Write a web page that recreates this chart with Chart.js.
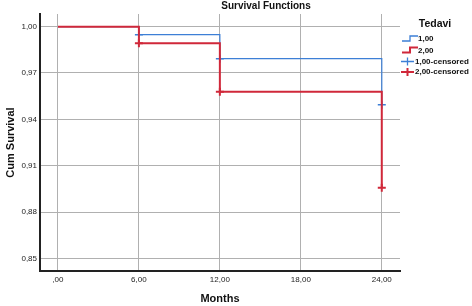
<!DOCTYPE html>
<html>
<head>
<meta charset="utf-8">
<script src="https://cdn.jsdelivr.net/npm/chart.js@4"></script>
<style>
  html, body { margin: 0; padding: 0; background: #fff; }
  #wrap { width: 472px; height: 306px; position: relative; }
</style>
</head>
<body>
<div id="wrap"><canvas id="graph" width="472" height="306"></canvas></div>
<script>
// Kaplan-Meier steps
const months = [0, 6, 12, 24];
const survival1 = [1.0, 0.9948, 0.9793, 0.9495];
const survival2 = [1.0, 0.9892, 0.9579, 0.8957];
const censorMonths = [6, 12, 24];
const censored1 = [0.9948, 0.9793, 0.9495];
const censored2 = [0.9892, 0.9579, 0.8957];
const xTicks = [0, 6, 12, 18, 24];
const yTicks = [0.85, 0.88, 0.91, 0.94, 0.97, 1.00];
const legendLabels = ['1,00', '2,00', '1,00-censored', '2,00-censored'];

const blue = '#3d7fd6';
const red = '#d0283a';

const pts = (xs, ys) => xs.map((x, i) => ({ x: x, y: ys[i] }));
const fmtX = v => v === 0 ? ',00' : v.toFixed(2).replace('.', ',');

// lower "order" is painted on top, red sits over blue like in SPSS
const data = {
    datasets: [
        {
            label: legendLabels[0],
            data: pts(months, survival1),
            showLine: true,
            stepped: 'before',
            pointRadius: 0,
            borderColor: blue,
            borderWidth: 1.2,
            order: 4
        },
        {
            label: legendLabels[2],
            data: pts(censorMonths, censored1),
            showLine: false,
            pointStyle: 'cross',
            pointRadius: 4,
            borderColor: blue,
            borderWidth: 1.5,
            order: 3
        },
        {
            label: legendLabels[1],
            data: pts(months, survival2),
            showLine: true,
            stepped: 'before',
            pointRadius: 0,
            borderColor: red,
            borderWidth: 2,
            order: 2
        },
        {
            label: legendLabels[3],
            data: pts(censorMonths, censored2),
            showLine: false,
            pointStyle: 'cross',
            pointRadius: 4,
            borderColor: red,
            borderWidth: 2,
            order: 1
        }
    ]
};

// title and legend box drawn by hand like the SPSS output
const decor = {
    id: 'decor',
    afterDraw(chart) {
        const ctx = chart.ctx;
        ctx.save();
        ctx.fillStyle = '#111';
        ctx.textBaseline = 'middle';
        ctx.textAlign = 'center';
        ctx.font = 'bold 10px "Liberation Sans", Arial, sans-serif';
        ctx.fillText('Survival Functions', 266, 6);
        ctx.font = 'bold 10.5px "Liberation Sans", Arial, sans-serif';
        ctx.fillText('Tedavi', 435, 24);

        const rows = [39, 50.5, 61.5, 72];
        const cols = [blue, red, blue, red];
        ctx.textAlign = 'left';
        ctx.font = 'bold 8px "Liberation Sans", Arial, sans-serif';
        rows.forEach((y, i) => {
            ctx.strokeStyle = cols[i];
            ctx.lineWidth = i % 2 ? 2 : 1.3;
            ctx.beginPath();
            if (i < 2) {
                ctx.moveTo(402, y + 2);
                ctx.lineTo(410, y + 2);
                ctx.lineTo(410, y - 3);
                ctx.lineTo(418, y - 3);
            } else {
                ctx.moveTo(401, y);
                ctx.lineTo(414, y);
                ctx.moveTo(407.5, y - 4);
                ctx.lineTo(407.5, y + 4);
            }
            ctx.stroke();
            ctx.fillText(legendLabels[i], i < 2 ? 418 : 415, y);
        });
        ctx.restore();
    }
};

const config = {
    type: 'scatter',
    data: data,
    plugins: [decor],
    options: {
        responsive: false,
        animation: false,
        layout: { padding: { left: 0, right: 72, top: 14, bottom: 0 } },
        plugins: {
            legend: { display: false },
            tooltip: { enabled: false }
        },
        scales: {
            x: {
                type: 'linear',
                min: -1.33,
                max: 25.35,
                afterBuildTicks: s => { s.ticks = xTicks.map(v => ({ value: v })); },
                afterFit: s => { s.height = 35; },
                grid: { color: '#b0b0b0', lineWidth: 1, drawTicks: false },
                border: { color: '#222', width: 2 },
                ticks: {
                    padding: 4,
                    color: '#222',
                    font: { family: '"Liberation Sans", Arial', size: 8 },
                    callback: v => fmtX(v)
                },
                title: {
                    display: true,
                    text: 'Months',
                    color: '#111',
                    font: { family: '"Liberation Sans", Arial', size: 11, weight: 'bold' },
                    padding: { top: 6, bottom: 0 }
                }
            },
            y: {
                min: 0.8418,
                max: 1.0082,
                afterBuildTicks: s => { s.ticks = yTicks.map(v => ({ value: v })); },
                afterFit: s => { s.width = 40; },
                grid: { color: '#b0b0b0', lineWidth: 1, drawTicks: false },
                border: { color: '#222', width: 2 },
                ticks: {
                    padding: 3,
                    color: '#222',
                    font: { family: '"Liberation Sans", Arial', size: 8 },
                    callback: v => v.toFixed(2).replace('.', ',')
                },
                title: {
                    display: true,
                    text: 'Cum Survival',
                    color: '#111',
                    font: { family: '"Liberation Sans", Arial', size: 11, weight: 'bold' },
                    padding: { top: 4, bottom: 0 }
                }
            }
        }
    }
};

const graph = document.querySelector('#graph');
new Chart(graph, config);
</script>
</body>
</html>
